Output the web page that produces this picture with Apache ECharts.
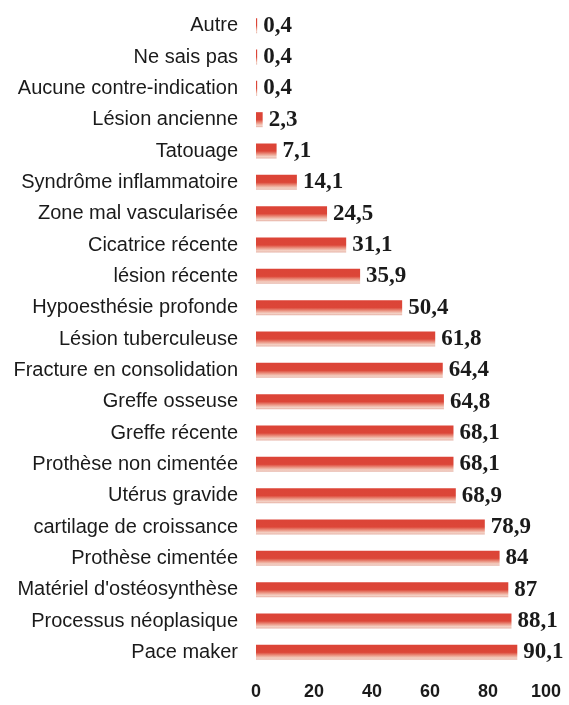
<!DOCTYPE html>
<html>
<head>
<meta charset="utf-8">
<script src="https://cdn.jsdelivr.net/npm/echarts@6/dist/echarts.min.js"></script>
<style>
  html, body { margin: 0; padding: 0; background: #ffffff; }
  #chart { width: 569px; height: 705px; }
</style>
</head>
<body>
<div id="chart"></div>
<script>
// Contre-indications, listed top to bottom
const categories = [
  "Autre",
  "Ne sais pas",
  "Aucune contre-indication",
  "Lésion ancienne",
  "Tatouage",
  "Syndrôme inflammatoire",
  "Zone mal vascularisée",
  "Cicatrice récente",
  "lésion récente",
  "Hypoesthésie profonde",
  "Lésion tuberculeuse",
  "Fracture en consolidation",
  "Greffe osseuse",
  "Greffe récente",
  "Prothèse non cimentée",
  "Utérus gravide",
  "cartilage de croissance",
  "Prothèse cimentée",
  "Matériel d'ostéosynthèse",
  "Processus néoplasique",
  "Pace maker"
];

// Percentages
const values = [0.4, 0.4, 0.4, 2.3, 7.1, 14.1, 24.5, 31.1, 35.9, 50.4, 61.8, 64.4, 64.8, 68.1, 68.1, 68.9, 78.9, 84, 87, 88.1, 90.1];

const xTicks = [0, 20, 40, 60, 80, 100];

const chart = echarts.init(document.getElementById('chart'), null, { renderer: 'canvas' });

const barFill = new echarts.graphic.LinearGradient(0, 0, 0, 1, [
  { offset: 0, color: '#dc4437' },
  { offset: 0.5, color: '#dc4638' },
  { offset: 0.72, color: '#ec9a88' },
  { offset: 0.88, color: '#f4d2c6' },
  { offset: 1, color: '#e6b2a6' }
]);

chart.setOption({
  animation: false,
  grid: { left: 256, right: 23, top: 10, bottom: 37, containLabel: false },
  xAxis: {
    type: 'value',
    min: xTicks[0],
    max: xTicks[xTicks.length - 1],
    interval: 20,
    splitLine: { show: false },
    axisLine: { show: false },
    axisTick: { show: false },
    axisLabel: {
      margin: 15,
      color: '#1a1a1a',
      fontFamily: 'Liberation Sans, Arial, sans-serif',
      fontSize: 18,
      fontWeight: 'bold'
    }
  },
  yAxis: {
    type: 'category',
    data: categories,
    inverse: true,
    axisLine: { show: false },
    axisTick: { show: false },
    splitLine: { show: false },
    axisLabel: {
      margin: 18,
      color: '#1a1a1a',
      fontFamily: 'Liberation Sans, Arial, sans-serif',
      fontSize: 20
    }
  },
  series: [{
    type: 'bar',
    data: values,
    barWidth: 15,
    itemStyle: { color: barFill },
    label: {
      show: true,
      position: 'right',
      distance: 6,
      color: '#1a1a1a',
      fontFamily: 'Liberation Serif, Times New Roman, serif',
      fontSize: 23,
      fontWeight: 'bold',
      formatter: p => String(p.value).replace('.', ',')
    }
  }]
});
</script>
</body>
</html>
